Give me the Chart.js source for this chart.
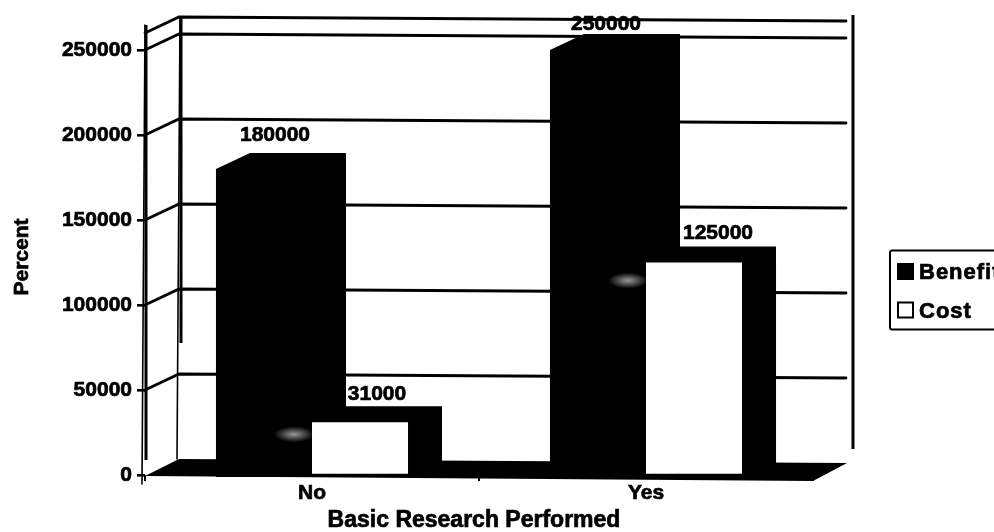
<!DOCTYPE html>
<html>
<head>
<meta charset="utf-8">
<style>
  html, body { margin: 0; padding: 0; background: #fff; overflow: hidden; }
  canvas { display: block; }
</style>
<script src="https://cdn.jsdelivr.net/npm/chart.js@4"></script>
</head>
<body>
<canvas id="benefitChart" width="994" height="532"></canvas>
<script>
const categories = ["No", "Yes"];
const benefitValues = [180000, 250000];
const costValues = [31000, 125000];
const yTicks = [0, 50000, 100000, 150000, 200000, 250000];
const yMax = 260000;
const xTitle = "Basic Research Performed";
const yTitle = "Percent";

const FONT = '"Liberation Sans", Arial, sans-serif';
const DEPTH_X = 34;
const DEPTH_Y = 16;
const WALL_TILT = 4;   // back wall lines drop a little towards the right

// Fake 3D box: back wall, floor and the top/side faces behind each bar
const boxPlugin = {
  id: "box3d",
  beforeDatasetsDraw(chart) {
    const { ctx, chartArea: area, scales: { y } } = chart;
    const wallLeft = area.left + DEPTH_X;
    const wallRight = area.right + DEPTH_X;
    const base = y.getPixelForValue(0);

    ctx.save();
    ctx.strokeStyle = "#000";
    ctx.lineCap = "round";

    // gridlines run along the side wall, then across the back wall
    ctx.lineWidth = 2.8;
    [...yTicks.slice(1), yMax].forEach((v) => {
      const py = y.getPixelForValue(v);
      ctx.beginPath();
      ctx.moveTo(area.left, py);
      ctx.lineTo(wallLeft, py - DEPTH_Y);
      ctx.lineTo(wallRight - 1, py - DEPTH_Y + WALL_TILT);
      ctx.stroke();
    });

    // thin upright edges lean slightly inwards going down
    ctx.lineWidth = 1.6;
    ctx.beginPath();
    ctx.moveTo(area.left, area.top - 8);
    ctx.lineTo(area.left - 3, base + 9);
    ctx.moveTo(wallLeft + 1, area.top - DEPTH_Y);
    ctx.lineTo(wallLeft - 2, base - DEPTH_Y);
    ctx.stroke();

    // heavy straight strokes laid over them, stopping short of the floor
    ctx.lineCap = "butt";
    ctx.lineWidth = 3;
    ctx.beginPath();
    ctx.moveTo(area.left + 1, area.top - 8);
    ctx.lineTo(area.left + 1, base - 15);
    ctx.moveTo(wallLeft + 2, area.top - DEPTH_Y);
    ctx.lineTo(wallLeft + 2, base - 132);
    ctx.moveTo(wallRight + 6, area.top - 18);
    ctx.lineTo(wallRight + 6, base - 26);
    ctx.stroke();

    // floor
    ctx.fillStyle = "#000";
    ctx.beginPath();
    ctx.moveTo(area.left, base + 1);
    ctx.lineTo(wallLeft, base - DEPTH_Y);
    ctx.lineTo(wallRight, base - DEPTH_Y + WALL_TILT);
    ctx.lineTo(area.right, base + 6);
    ctx.closePath();
    ctx.fill();

    // top and right faces, the front faces are the library's own bars
    chart.data.datasets.forEach((ds, i) => {
      chart.getDatasetMeta(i).data.forEach((bar) => {
        const l = bar.x - bar.width / 2;
        const r = bar.x + bar.width / 2;
        ctx.beginPath();
        ctx.moveTo(l, bar.y);
        ctx.lineTo(l + DEPTH_X, bar.y - DEPTH_Y);
        ctx.lineTo(r + DEPTH_X, bar.y - DEPTH_Y);
        ctx.lineTo(r + DEPTH_X, base - DEPTH_Y + WALL_TILT);
        ctx.lineTo(r, base + 2);
        ctx.lineTo(l, base + 2);
        ctx.closePath();
        ctx.fill();
      });
    });
    ctx.restore();
  },
  afterDatasetsDraw(chart) {
    const { ctx, chartArea: area } = chart;
    ctx.save();

    // pale smudge on the dark bar next to each white bar
    chart.getDatasetMeta(1).data.forEach((bar, i) => {
      const cx = bar.x - bar.width / 2 - 18;
      const cy = i === 0 ? bar.y + 12 : bar.y + 18;
      ctx.save();
      ctx.translate(cx, cy);
      ctx.scale(1, 0.4);
      const glow = ctx.createRadialGradient(0, 0, 1, 0, 0, 20);
      glow.addColorStop(0, "rgba(205,205,205,0.7)");
      glow.addColorStop(1, "rgba(205,205,205,0)");
      ctx.fillStyle = glow;
      ctx.fillRect(-20, -20, 40, 40);
      ctx.restore();
    });

    const heavyText = (text, x, y) => {
      ctx.fillText(text, x, y);
      ctx.strokeText(text, x, y);
    };

    // value labels sit above the top face of each bar
    ctx.font = "bold 21px " + FONT;
    ctx.lineWidth = 0.7;
    ctx.strokeStyle = "#000";
    ctx.fillStyle = "#000";
    ctx.textAlign = "center";
    ctx.textBaseline = "middle";
    const nudge = [[[11, -18], [8, -10]], [[17, -12], [24, -13]]];
    chart.data.datasets.forEach((ds, i) => {
      chart.getDatasetMeta(i).data.forEach((bar, j) => {
        heavyText(String(ds.data[j]), bar.x + nudge[i][j][0], bar.y - DEPTH_Y + nudge[i][j][1]);
      });
    });

    // axis titles
    ctx.font = "bold 23px " + FONT;
    heavyText(xTitle, area.left + area.width / 2 - 5, 521);
    ctx.save();
    ctx.translate(22, (area.top + area.bottom) / 2 + 3);
    ctx.rotate(-Math.PI / 2);
    ctx.font = "bold 21px " + FONT;
    heavyText(yTitle, 0, 0);
    ctx.restore();

    // legend box runs off the right edge of the canvas
    ctx.lineWidth = 2;
    ctx.beginPath();
    ctx.roundRect(890, 250.5, 130, 79, 2);
    ctx.stroke();
    ctx.textAlign = "left";
    ctx.textBaseline = "alphabetic";
    ctx.font = "bold 22px " + FONT;
    ctx.letterSpacing = "1px";
    chart.data.datasets.forEach((ds, i) => {
      const top = 264 + i * 38.5;
      ctx.fillStyle = ds.backgroundColor;
      ctx.fillRect(898, top, 15, 15);
      ctx.strokeRect(898, top, 15, 15);
      ctx.fillStyle = "#000";
      ctx.lineWidth = 0.7;
      heavyText(ds.label, 919, top + 15);
      ctx.lineWidth = 2;
    });
    ctx.restore();
  },
};

const tickFont = { family: FONT, weight: "bold", size: 21 };

new Chart(document.getElementById("benefitChart"), {
  type: "bar",
  data: {
    labels: categories,
    datasets: [
      { label: "Benefit", data: benefitValues, backgroundColor: "#000" },
      { label: "Cost", data: costValues, backgroundColor: "#fff" },
    ],
  },
  options: {
    responsive: false,
    animation: false,
    layout: { padding: { top: 33, right: 181, left: 0, bottom: 0 } },
    plugins: { legend: { display: false }, tooltip: { enabled: false } },
    datasets: { bar: { categoryPercentage: 0.575, barPercentage: 1 } },
    scales: {
      x: {
        afterFit: (s) => { s.height = 57; },
        border: { display: false },
        grid: { drawOnChartArea: false, color: "#000", lineWidth: 2, tickLength: 6 },
        ticks: { color: "#000", padding: 0, font: tickFont, textStrokeColor: "#000", textStrokeWidth: 0.7 },
      },
      y: {
        min: 0,
        max: yMax,
        afterBuildTicks: (s) => { s.ticks = yTicks.map((value) => ({ value })); },
        afterFit: (s) => { s.width = 145; },
        border: { display: false },
        grid: { drawOnChartArea: false, color: "#000", lineWidth: 2.6, tickLength: 8 },
        ticks: {
          color: "#000",
          padding: 5,
          font: tickFont,
          textStrokeColor: "#000",
          textStrokeWidth: 0.7,
          callback: (v) => String(v),
        },
      },
    },
  },
  plugins: [boxPlugin],
});
</script>
</body>
</html>
